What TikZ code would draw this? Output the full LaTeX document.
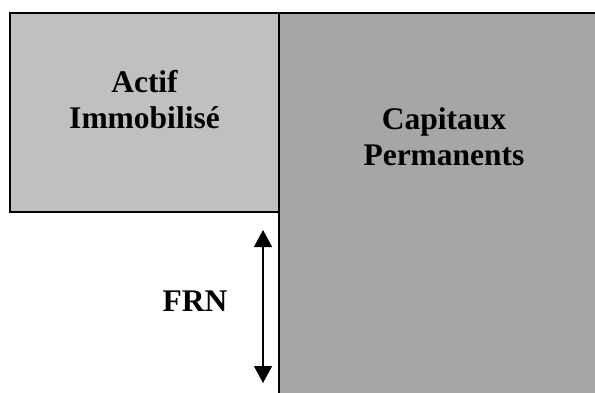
\documentclass[tikz,border=0pt]{standalone}
\usepackage{fontspec}
\setmainfont{Liberation Serif}
\usetikzlibrary{arrows.meta}
\definecolor{assetgray}{HTML}{C0C0C0}
\definecolor{capgray}{HTML}{A6A6A6}
\tikzset{
  block/.style={draw=black, line width=2bp, inner sep=0pt, outer sep=0pt},
  caption/.style={font=\bfseries\fontsize{31.5bp}{36bp}\selectfont, align=center, inner sep=0pt, anchor=base},
  gap/.style={line width=1.5bp, {Triangle[length=17bp,width=18bp]}-{Triangle[length=17bp,width=18bp]}}
}
\begin{document}
\begin{tikzpicture}[x=1bp,y=1bp]
  \useasboundingbox (0,0) rectangle (595,392);
  % long-term funding block, running off the page on the right and bottom
  \node[block, fill=capgray, minimum width=320bp, minimum height=384bp, anchor=north west] (cap) at (279,379) {};
  % fixed assets block
  \node[block, fill=assetgray, minimum width=269bp, minimum height=199bp, anchor=north west] (actif) at (10,379) {};
  % labels
  \node[caption] (actifA) at (144.5,300) {Actif};
  \node[caption] (actifB) at (144.5,264) {Immobilisé};
  \node[caption] (capA) at (444,263) {Capitaux};
  \node[caption] (capB) at (444,227) {Permanents};
  \node[caption] (frn) at (195,81) {FRN};
  % working capital span
  \coordinate (frnTop) at (263,162);
  \coordinate (frnBot) at (263,9);
  \draw[gap] (frnTop) -- (frnBot);
\end{tikzpicture}
\end{document}
